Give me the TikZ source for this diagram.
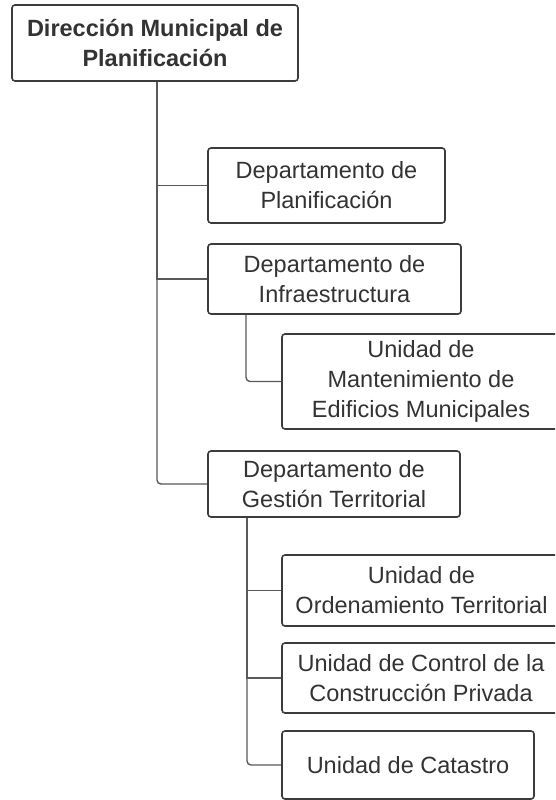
\documentclass[tikz,border=0pt]{standalone}
\usepackage{fontspec}
\setmainfont{Liberation Sans}
\definecolor{boxline}{HTML}{3C3C3C}
\definecolor{connline}{HTML}{5A5A5A}
\definecolor{txt}{HTML}{333333}
\begin{document}
\begin{tikzpicture}[x=1pt,y=-1pt,
  box/.style={draw=boxline, line width=1.6pt, rounded corners=3pt, align=center,
    text=txt, inner sep=0pt, font=\fontsize{23.5}{30}\selectfont},
  conn/.style={draw=connline, line width=1.4pt}]
\clip (0,0) rectangle (555,800);
\fill[white] (0,0) rectangle (555,800);
\node[box, minimum width=286pt, minimum height=76pt, font=\fontsize{23.5}{30}\selectfont\bfseries] (top) at (155,43) {Dirección Municipal de\\Planificación};
\node[box, minimum width=237pt, minimum height=75pt] (dp) at (326.5,185.5) {Departamento de\\Planificación};
\node[box, minimum width=253pt, minimum height=70pt] (di) at (334.5,279) {Departamento de\\Infraestructura};
\node[box, minimum width=278pt, minimum height=95pt] (um) at (421,381.5) {Unidad de\\Mantenimiento de\\Edificios Municipales};
\node[box, minimum width=252pt, minimum height=66pt] (dg) at (334,484) {Departamento de\\Gestión Territorial};
\node[box, minimum width=279pt, minimum height=71pt] (uo) at (421.5,590.5) {Unidad de\\Ordenamiento Territorial};
\node[box, minimum width=278pt, minimum height=70pt] (uc) at (421,678) {Unidad de Control de la\\Construcción Privada};
\node[box, minimum width=252pt, minimum height=68pt] (uca) at (408,765) {Unidad de Catastro};
% connectors
\draw[conn] ([xshift=2pt]top.south) |- (dp.west);
\draw[conn] ([xshift=2pt]top.south) |- (di.west);
\draw[conn, rounded corners=4pt] ([xshift=2pt]top.south) |- (dg.west);
\draw[conn, rounded corners=4pt] ([xshift=-88.5pt]di.south) |- (um.west);
\draw[conn] ([xshift=-87pt]dg.south) |- (uo.west);
\draw[conn] ([xshift=-87pt]dg.south) |- (uc.west);
\draw[conn, rounded corners=4pt] ([xshift=-87pt]dg.south) |- (uca.west);
\end{tikzpicture}
\end{document}
